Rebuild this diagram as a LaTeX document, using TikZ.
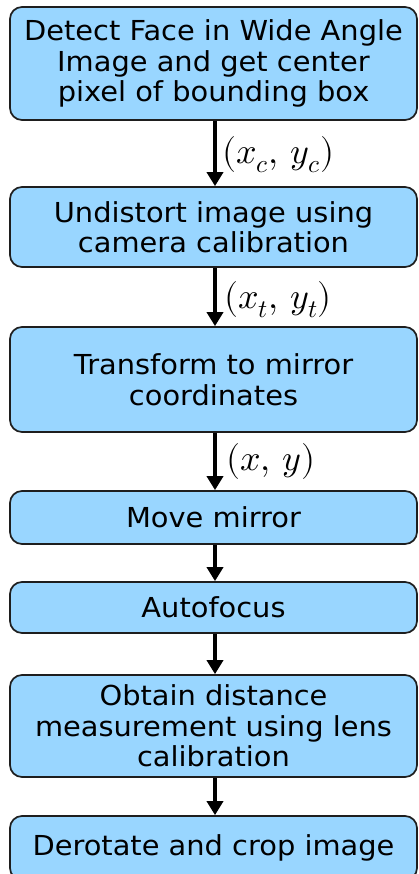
\documentclass[tikz,border=0pt]{standalone}
\usepackage{unicode-math}
\setmainfont{DejaVu Sans}[FakeStretch=1.05]
\setmathfont{Latin Modern Math}
\usetikzlibrary{arrows.meta}
\definecolor{boxblue}{RGB}{153,214,255}
\definecolor{boxedge}{RGB}{30,30,30}
\tikzset{
  stepbox/.style={draw=boxedge, line width=1.7pt, fill=boxblue, rounded corners=12pt,
    minimum width=407pt, align=center, inner sep=0pt,
    font=\fontsize{27.5}{30.5}\selectfont},
  flow/.style={line width=3.6pt, -{Triangle[length=14pt,width=16pt]}},
  varlabel/.style={anchor=west, inner sep=0pt, font=\fontsize{36}{38}\selectfont}
}
\begin{document}
\begin{tikzpicture}[x=1pt,y=-1pt]
\useasboundingbox (0,0) rectangle (419,874);
\clip (0,0) rectangle (419,874);
\fill[white] (0,0) rectangle (419,874);

\node[stepbox, minimum height=113pt] (detect) at (213.5,63.5)
  {Detect Face in Wide Angle\\Image and get center\\pixel of bounding box};
\node[stepbox, minimum height=80pt] (undist) at (213.5,227)
  {Undistort image using\\camera calibration};
\node[stepbox, minimum height=105pt] (trans) at (213.5,379.5)
  {Transform to mirror\\coordinates};
\node[stepbox, minimum height=53pt] (move) at (213.5,517.5) {Move mirror};
\node[stepbox, minimum height=51pt] (focus) at (213.5,607.5) {Autofocus};
\node[stepbox, minimum height=102pt] (dist) at (213.5,726)
  {Obtain distance\\measurement using lens\\calibration};
\node[stepbox, minimum height=64pt] (derot) at (213.5,848) {Derotate and crop image};

\draw[flow] (detect.south -| 215,0) -- (undist.north -| 215,0);
\draw[flow] (undist.south -| 215,0) -- (trans.north -| 215,0);
\draw[flow] (trans.south -| 215,0) -- (move.north -| 215,0);
\draw[flow] (move.south -| 215,0) -- (focus.north -| 215,0);
\draw[flow] (focus.south -| 215,0) -- (dist.north -| 215,0);
\draw[flow] (dist.south -| 215,0) -- (derot.north -| 215,0);

\node[varlabel] (lc) at (222,155) {$(x_c,\, y_c)$};
\node[varlabel] (lt) at (224,300) {$(x_t,\, y_t)$};
\node[varlabel] (lxy) at (226,461) {$(x,\, y)$};
\end{tikzpicture}
\end{document}
